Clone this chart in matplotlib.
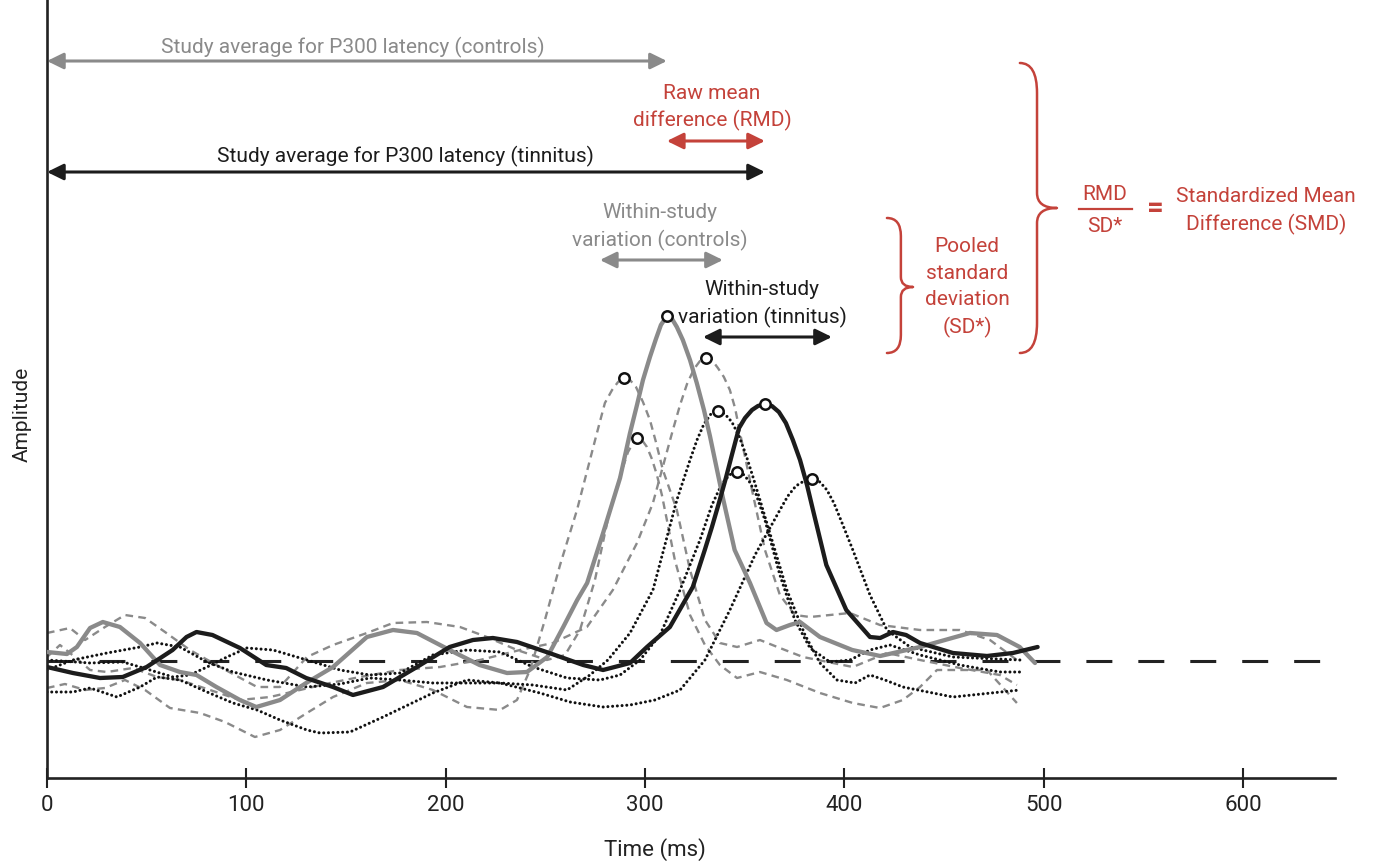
import numpy as np
import matplotlib
matplotlib.use("Agg")
import matplotlib.pyplot as plt
from matplotlib.path import Path
from matplotlib.patches import PathPatch

plt.rcParams['font.family'] = ['Roboto', 'DejaVu Sans']
plt.rcParams['lines.scale_dashes'] = False

# ---------------- data (time in ms, amplitude in arbitrary units) ----------------
ctrl_mean_ms = [0, 10, 15, 21.6, 28, 36.6, 46.7, 56.7, 66.7, 75, 85, 96.8, 105, 116.9, 130,
                143.5, 160.5, 173.6, 185.6, 202, 217, 230.8, 240.8, 251, 259, 266, 271, 279,
                287.5, 292.5, 296, 299, 302.5, 305.5, 308, 311, 313.6, 316, 319, 322.6,
                326, 329.6, 332.6, 339, 345, 352.7, 361, 366, 372.7, 377.8, 387.8, 404, 418,
                438, 463, 476.6, 488, 495.7]
ctrl_mean_amp = [0.9, 0.7, 1.4, 3.3, 3.9, 3.4, 1.8, -0.4, -1.1, -1.4, -2.6, -3.9, -4.6, -3.9, -2.2,
                 -0.6, 2.4, 3.1, 2.8, 1.1, -0.4, -1.2, -1.1, 0.4, 3.4, 6.1, 7.8, 12.8,
                 18.3, 22.8, 25.6, 28.1, 30.4, 32.2, 33.6, 34.5, 34.2, 33.4, 32.1, 30.1,
                 27.8, 25.1, 22.5, 16.4, 11.1, 7.8, 3.8, 3.1, 3.6, 3.9, 2.4, 1.1, 0.5,
                 1.4, 2.8, 2.6, 1.4, -0.2]

tin_mean_ms = [0, 13, 26.6, 38, 50, 63, 70, 75, 83, 96.8, 110, 120, 130, 143.5, 153.5,
               168.6, 185.6, 202, 213.7, 223.7, 235.8, 252, 269, 279, 292.5, 301, 312.5, 324,
               330, 333.6, 337.1, 340.6, 343.6, 347.2, 350.2, 353.7, 356.7, 360.2, 363.7,
               367.2, 370.7, 374.2, 377.8, 381.3, 384.3, 391, 401, 412.9, 418, 424.4, 431,
               438, 454.5, 471.6, 484.6, 497]
tin_mean_amp = [-0.6, -1.2, -1.7, -1.6, -0.6, 1.1, 2.4, 2.9, 2.6, 1.3, -0.4, -0.7, -1.7, -2.6, -3.4,
                -2.6, -0.6, 1.4, 2.1, 2.3, 1.9, 0.8, -0.4, -0.9, -0.2, 1.4, 3.4, 7.4,
                11.1, 13.4, 15.8, 18.3, 20.6, 23.3, 24.3, 25.1, 25.5, 25.7, 25.5,
                24.9, 23.8, 22.1, 20.1, 17.6, 15.1, 9.6, 5.1, 2.4, 2.3, 2.9, 2.6,
                1.8, 0.8, 0.5, 0.8, 1.4]

# individual control studies (dashed grey)
ctrl1_ms = [0, 9, 19.1, 29.1, 39.1, 49.2, 61.7, 76.8, 89.3, 104.3, 116.9, 130.4, 143.5, 160.5,
            177.1, 193.6, 210.7, 227.3, 235.8, 242.3, 249.8, 257.4, 265.9, 275.9, 279.9, 283.5,
            286.5, 289.5, 292.5, 295.5, 299, 302.5, 305.5, 309, 316, 322.6, 330.1, 337.6,
            346.2, 357.7, 367.7, 379.3, 404.3, 421.4, 438, 458, 478.1, 486.6]
ctrl1_amp = [-2.7, -2.3, -2.9, -2.7, -1.9, -2.9, -4.7, -5.2, -6.1, -7.6, -6.9, -5.2, -3.6, -2.2,
             -1.9, -2.9, -4.6, -4.9, -3.9, -0.9, 4.1, 9.6, 15.1, 22.8, 25.8, 27.1,
             27.9, 28.3, 28.1, 27.4, 25.9, 24.1, 21.9, 19.1, 15.1, 9.1, 4.1, 1.8,
             1.4, 2.1, 1.3, 0.4, -0.6, 0.8, 0.1, -0.7, -1.4, -2.4]

ctrl2_ms = [0, 11.5, 19.1, 29.1, 39.1, 49.2, 59.2, 71.7, 86.8, 105.4, 116.9, 130.4, 143.5, 160.5,
            173.6, 190.6, 207.2, 220.7, 235.8, 250.8, 259.9, 267.4, 274.9, 282.4, 288.5, 291.5,
            294, 296, 298.5, 301, 303.5, 306, 308.5, 315, 322.6, 330.1, 337.6, 346.2, 357.7,
            371.2, 387.8, 404.3, 417.9, 429.4, 438, 446.5, 471.6, 486.6]
ctrl2_amp = [2.8, 3.3, 2.1, 3.4, 4.6, 4.3, 2.9, 1.1, -0.6, -2.6, -2.6, 0.4, 1.6, 2.8,
             3.8, 3.9, 3.4, 2.4, 1.1, 0.1, 0.6, 3.1, 8.1, 15.1, 19.1, 20.9,
             21.8, 22.3, 22.1, 21.4, 20.2, 18.6, 16.6, 10.1, 4.6, 1.6, -0.4, -1.7, -1.1,
             -1.9, -3.2, -4.2, -4.7, -3.9, -2.6, -0.9, -0.9, -4.2]

ctrl3_ms = [0, 6.5, 14, 21.6, 30.1, 43.1, 55.2, 66.7, 81.8, 96.8, 111.9, 126.9, 142, 157,
            177.1, 197.2, 217.2, 237.3, 253.8, 270.9, 283.9, 296, 304, 314, 317.6, 321.1,
            324.6, 327.6, 330.6, 333.6, 336.6, 339.6, 342.6, 345.2, 347.7, 353.7, 360.2,
            367.7, 375.2, 382.8, 392.8, 402.8, 417.9, 438, 458, 473.1, 486.6]
ctrl3_amp = [0.4, 1.6, 0.4, -0.9, -1.1, -0.7, -1.6, -1.9, -2.9, -3.9, -3.6, -2.9, -2.2, -1.6,
             -0.9, -0.6, 0.1, 1.1, 1.8, 3.4, 7.1, 11.8, 15.8, 23.1, 25.6, 27.7,
             29.2, 30.0, 30.3, 30.1, 29.3, 28.4, 27.1, 25.3, 22.8, 17.1, 11.1,
             6.6, 4.6, 4.4, 4.6, 4.8, 3.6, 3.1, 3.1, 2.1, 0.1]

# individual tinnitus studies (dotted black)
tin1_ms = [0, 13, 30.1, 46.7, 55.2, 66.7, 80.3, 93.3, 110.4, 130.4, 147, 162, 177.1, 193.6,
           210.7, 227.3, 243.8, 260.9, 272.4, 281.4, 292.5, 304, 316, 322.6, 326.1, 329.6,
           333.1, 336.6, 340.1, 343.6, 347.2, 350.7, 354.2, 357.7, 371.2, 380.3, 387.8,
           396.3, 405.4, 412.9, 420.4, 429.4, 454.5, 488.1]
tin1_amp = [-0.9, 0.1, 0.8, 1.4, 1.8, 1.4, -0.1, -1.1, -1.9, -2.6, -2.3, -1.7, -1.9, -2.2,
            -2.2, -2.2, -2.4, -2.9, -1.4, 0.1, 2.8, 7.1, 16.1, 20.1, 22.1, 23.7,
            24.7, 25.0, 24.7, 23.9, 22.5, 20.6, 18.4, 16.1, 7.1, 2.6, -0.2,
            -1.9, -2.2, -1.4, -1.9, -2.6, -3.6, -2.9]

tin2_ms = [0, 21.6, 38.1, 46.7, 63.2, 71.7, 80.3, 90.3, 100.3, 113.4, 130.4, 147, 162, 177.1,
           193.6, 210.7, 227.3, 243.8, 260.9, 277.4, 287.5, 297.5, 307.5, 317.6, 327.6, 333.6,
           337.1, 340.1, 343.1, 346.2, 349.2, 352.2, 355.7, 360.2, 367.7, 375.2, 382.8,
           392.8, 402.8, 412.9, 422.9, 438, 458, 478.1, 488.1]
tin2_amp = [0.1, -0.2, -0.1, -0.6, -1.6, -1.4, -0.6, 0.4, 1.3, 1.1, 0.1, -0.9, -1.4, -1.2,
            0.6, 1.1, 0.9, -0.6, -1.7, -1.9, -1.4, 0.1, 2.6, 7.1, 12.1, 15.6,
            17.1, 18.1, 18.7, 18.9, 18.7, 18.0, 16.7, 14.1, 8.6, 4.1, 1.3,
            -0.1, 0.1, 1.1, 1.6, 0.6, -0.4, -1.1, -1.1]

tin3_ms = [0, 13, 21.6, 35.1, 46.7, 55.2, 66.7, 80.3, 93.3, 105.4, 116.9, 130.4, 137, 152,
           168.6, 193.6, 210.7, 227.3, 247.3, 262.4, 278.9, 292.5, 305, 317.6, 330.1, 342.6,
           355.2, 367.7, 371.7, 375.7, 379.8, 383.8, 387.8, 391.3, 394.8, 399.3, 404.3,
           412.9, 421.4, 433, 454.5, 488.1]
tin3_amp = [-3.1, -3.1, -2.7, -3.6, -2.6, -1.6, -1.9, -3.1, -4.2, -4.9, -5.9, -6.9, -7.2, -7.1,
            -5.6, -3.2, -1.9, -2.2, -3.2, -4.1, -4.6, -4.4, -3.9, -2.9, 0.1, 5.1,
            10.6, 15.1, 16.5, 17.5, 18.0, 18.2, 17.9, 17.1, 15.8, 13.6, 11.1,
            6.6, 3.1, 1.4, 0.4, 0.1]

ctrl_studies = [(ctrl1_ms, ctrl1_amp), (ctrl2_ms, ctrl2_amp), (ctrl3_ms, ctrl3_amp)]
tin_studies = [(tin1_ms, tin1_amp), (tin2_ms, tin2_amp), (tin3_ms, tin3_amp)]

ctrl_within_range = [277.4, 339.1]   # within-study variation (controls), ms
tin_within_range = [329.1, 393.8]    # within-study variation (tinnitus), ms
baseline_amp = 0.0
baseline_end_ms = 640.7
x_ticks = [0, 100, 200, 300, 400, 500, 600]

# ---------------- styling ----------------
GREY = '#8a8a8a'
BLACK = '#1c1c1c'
RED = '#c4423a'
FS = 15

fig = plt.figure(figsize=(13.74, 8.61), dpi=100)
ax = fig.add_axes([47 / 1374, 83 / 861, 1288 / 1374, 778 / 861])
ax.set_xlim(0, 646.2)
ax.set_ylim(-11.7, 66.1)

for s in ['top', 'right']:
    ax.spines[s].set_visible(False)
for s in ['left', 'bottom']:
    ax.spines[s].set_linewidth(1.9)
    ax.spines[s].set_color('#222222')
ax.set_yticks([])
ax.set_xticks(x_ticks)
ax.set_xticklabels([str(t) for t in x_ticks])
ax.tick_params(axis='x', direction='inout', length=15, width=1.5, color='#222222',
               labelsize=16, labelcolor='#222222', pad=5)

# baseline
ax.plot([0, baseline_end_ms], [baseline_amp, baseline_amp], color='#222222', lw=2.2,
        linestyle=(0, (18.7, 18.7)), zorder=1, dash_capstyle='butt')

# individual studies
for ms, amp in ctrl_studies:
    ax.plot(ms, amp, color=GREY, lw=1.7, linestyle=(0, (5.5, 3.8)), zorder=2,
            solid_joinstyle='round', dash_joinstyle='round')
for ms, amp in tin_studies:
    ax.plot(ms, amp, color='#111111', lw=2.2, linestyle=(0, (0.01, 3.4)), zorder=2,
            dash_capstyle='round', dash_joinstyle='round')

# means
ax.plot(ctrl_mean_ms, ctrl_mean_amp, color=GREY, lw=3.1, zorder=3, solid_joinstyle='round',
        solid_capstyle='round')
ax.plot(tin_mean_ms, tin_mean_amp, color=BLACK, lw=3.1, zorder=4, solid_joinstyle='round',
        solid_capstyle='round')

# peak markers
peaks_x, peaks_y = [], []
for ms, amp in ctrl_studies + tin_studies + [(ctrl_mean_ms, ctrl_mean_amp), (tin_mean_ms, tin_mean_amp)]:
    i = int(np.argmax(amp))
    peaks_x.append(ms[i])
    peaks_y.append(amp[i])
ax.plot(peaks_x, peaks_y, linestyle='none', marker='o', ms=7.5, mfc='white', mec='#111111',
        mew=1.8, zorder=6)

ctrl_peak = ctrl_mean_ms[int(np.argmax(ctrl_mean_amp))]
tin_peak = tin_mean_ms[int(np.argmax(tin_mean_amp))]


def darrow(x0, x1, y, color):
    ax.annotate('', xy=(x1, y), xytext=(x0, y), annotation_clip=False,
                arrowprops=dict(arrowstyle='<|-|>,head_length=0.55,head_width=0.27',
                                color=color, lw=2.2, shrinkA=0, shrinkB=0,
                                mutation_scale=18))


# study averages
ax.text(153.5, 60.8, 'Study average for P300 latency (controls)', color=GREY, fontsize=FS,
        ha='center', va='baseline')
darrow(0, ctrl_peak, 60.0, GREY)
ax.text(179.9, 49.9, 'Study average for P300 latency (tinnitus)', color=BLACK, fontsize=FS,
        ha='center', va='baseline')
darrow(0, tin_peak, 48.9, BLACK)

# raw mean difference
ax.text(333.6, 53.5, 'Raw mean\ndifference (RMD)', color=RED, fontsize=FS, ha='center',
        va='baseline', linespacing=1.42, multialignment='center')
darrow(ctrl_peak, tin_peak, 52.0, RED)

# within-study variations
ax.text(307.5, 41.5, 'Within-study\nvariation (controls)', color=GREY, fontsize=FS,
        ha='center', va='baseline', linespacing=1.45, multialignment='center')
darrow(ctrl_within_range[0], ctrl_within_range[1], 40.1, GREY)
ax.text(358.7, 33.8, 'Within-study\nvariation (tinnitus)', color=BLACK, fontsize=FS,
        ha='center', va='baseline', linespacing=1.45, multialignment='center')
darrow(tin_within_range[0], tin_within_range[1], 32.4, BLACK)


def brace(x0, xm, x1, ytop, ybot, ytip, r_end, r_tip):
    verts = [(x0, ytop), (xm, ytop), (xm, ytop - r_end),
             (xm, ytip + r_tip),
             (xm, ytip), (x1, ytip),
             (xm, ytip), (xm, ytip - r_tip),
             (xm, ybot + r_end),
             (xm, ybot), (x0, ybot)]
    codes = [Path.MOVETO, Path.CURVE3, Path.CURVE3,
             Path.LINETO,
             Path.CURVE3, Path.CURVE3,
             Path.CURVE3, Path.CURVE3,
             Path.LINETO,
             Path.CURVE3, Path.CURVE3]
    ax.add_patch(PathPatch(Path(verts, codes), facecolor='none', edgecolor=RED, lw=1.8,
                           clip_on=False, capstyle='round', joinstyle='round'))


brace(421.4, 428.4, 434.5, 44.3, 30.8, 37.4, 1.8, 1.0)
brace(488.1, 496.7, 506.7, 59.8, 30.8, 45.3, 3.0, 1.5)

ax.text(461.6, 32.8, 'Pooled\nstandard\ndeviation\n(SD*)', color=RED, fontsize=FS,
        ha='center', va='baseline', linespacing=1.48, multialignment='center')

ax.text(530.8, 46.1, 'RMD', color=RED, fontsize=FS, ha='center', va='baseline')
ax.plot([517.7, 544.3], [45.2, 45.2], color=RED, lw=1.6, clip_on=False)
ax.text(530.8, 42.9, 'SD*', color=RED, fontsize=FS, ha='center', va='baseline')
ax.text(555.9, 45.2, '=', color=RED, fontsize=21, ha='center', va='center',
        fontweight='bold')
ax.text(611.5, 43.1, 'Standardized Mean\nDifference (SMD)', color=RED, fontsize=FS,
        ha='center', va='baseline', linespacing=1.45, multialignment='center')

# axis titles
fig.text(655 / 1374, 5 / 861, 'Time (ms)', fontsize=16, color='#222222', ha='center',
         va='baseline')
fig.text(22 / 1374, 1 - 414 / 861, 'Amplitude', fontsize=15, color='#222222', ha='center',
         va='center', rotation=90)

fig.savefig('out.png', dpi=100)
